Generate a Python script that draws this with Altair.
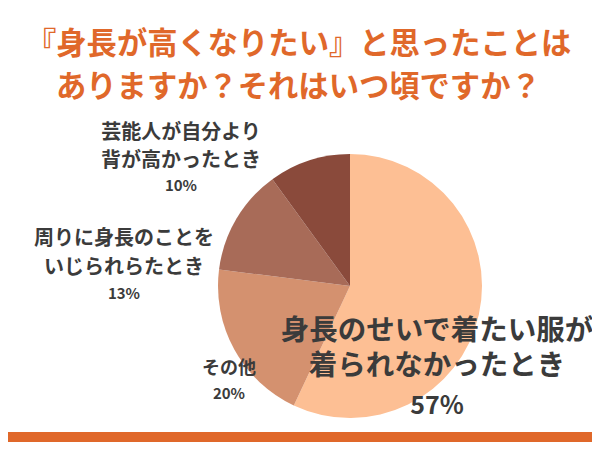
import altair as alt
import pandas as pd

# ---- data ----
categories = ["身長のせいで着たい服が着られなかったとき", "その他", "周りに身長のことをいじられらたとき", "芸能人が自分より背が高かったとき"]
label_lines = [
    ["身長のせいで着たい服が", "着られなかったとき"],
    ["その他"],
    ["周りに身長のことを", "いじられらたとき"],
    ["芸能人が自分より", "背が高かったとき"],
]
values = [57, 20, 13, 10]
colors = ["#FDBF94", "#D4916F", "#A86B58", "#8A4A3B"]
title_lines = ["『身長が高くなりたい』と思ったことは", "ありますか？それはいつ頃ですか？"]

df = pd.DataFrame({"cat": categories, "value": values, "order": list(range(len(values)))})

W, H = 584, 434
CX, CY, R = 342, 278, 132
FONT = "Noto Sans CJK JP"
TXT = "#3b3b3b"
ORANGE = "#E0682A"

pie = alt.Chart(df).mark_arc(radius=R, stroke=None).encode(
    theta=alt.Theta("value:Q", stack=True),
    color=alt.Color("cat:N", scale=alt.Scale(domain=categories, range=colors), legend=None),
    order=alt.Order("order:Q"),
    x=alt.value(CX),
    y=alt.value(CY),
)

layers = [pie]

# label layout: (center x, line ys, pct y, name size, pct size)
layout = [
    (429, [323, 358], 398, 28.5, 25),
    (221, [361], 386, 18, 15),
    (116, [231, 260], 286, 20, 15),
    (173, [125, 153], 178, 20, 15),
]

base = alt.Chart(pd.DataFrame({"a": [0]}))
for lines, val, (lx, lys, py, ns, ps) in zip(label_lines, values, layout):
    for line, ly in zip(lines, lys):
        layers.append(base.mark_text(font=FONT, fontWeight="bold", fontSize=ns, color=TXT,
                                     align="center", baseline="middle").encode(
            x=alt.value(lx), y=alt.value(ly), text=alt.value(line)))
    layers.append(base.mark_text(font=FONT, fontWeight="bold", fontSize=ps, color=TXT,
                                 align="center", baseline="middle").encode(
        x=alt.value(lx), y=alt.value(py), text=alt.value(f"{val}%")))

for line, tx, ty in zip(title_lines, [18, 48], [37, 80]):
    layers.append(base.mark_text(font=FONT, fontWeight="bold", fontSize=30.3, color=ORANGE,
                                 align="left", baseline="middle").encode(
        x=alt.value(tx), y=alt.value(ty), text=alt.value(line)))

layers.append(base.mark_rect(color=ORANGE).encode(
    x=alt.value(-8), x2=alt.value(W + 8), y=alt.value(424), y2=alt.value(H)))

chart = alt.layer(*layers).properties(
    width=W, height=H, padding=0, autosize="none", background="white"
).configure_view(stroke=None)

chart.save("out.html", embed_options={"renderer": "svg", "actions": False})
